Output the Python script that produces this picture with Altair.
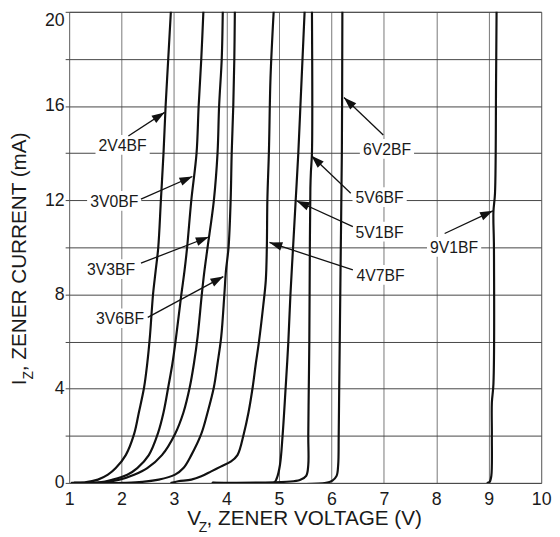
import math
import altair as alt
import pandas as pd

# ---------------- data ----------------
NAMES = ["2V4BF", "3V0BF", "3V3BF", "3V6BF", "4V7BF", "5V1BF", "5V6BF", "6V2BF", "9V1BF"]

I_LOW = [0.00, 0.02, 0.14, 0.35, 0.63, 1.18, 2.08, 2.99, 4.06, 5.07, 6.20, 8.00, 9.00, 10.0, 12.0, 14.0, 16.0, 18.0, 20.0]

V_2V4 = [1.05, 1.30, 1.55, 1.74, 1.89, 2.08, 2.24, 2.33, 2.43, 2.49, 2.54, 2.60, 2.65, 2.70, 2.75, 2.80, 2.84, 2.89, 2.94]
I_2V4 = I_LOW
V_3V0 = [1.10, 1.58, 1.83, 2.11, 2.30, 2.52, 2.69, 2.80, 2.89, 2.97, 3.04, 3.14, 3.20, 3.25, 3.33, 3.43, 3.47, 3.52, 3.56]
I_3V0 = I_LOW
V_3V3 = [1.10, 1.64, 1.96, 2.24, 2.49, 2.77, 3.02, 3.18, 3.30, 3.38, 3.45, 3.53, 3.58, 3.64, 3.76, 3.83, 3.86, 3.91, 3.93]
I_3V3 = I_LOW
V_3V6 = [1.60, 2.27, 2.71, 3.02, 3.18, 3.33, 3.52, 3.64, 3.76, 3.83, 3.90, 3.96, 3.99, 4.04, 4.08, 4.10, 4.13, 4.15, 4.16]
I_3V6 = I_LOW
V_4V7 = [2.95, 3.08, 3.33, 3.52, 3.71, 3.89, 4.08, 4.21, 4.33, 4.42, 4.50, 4.56, 4.62, 4.70, 4.75, 4.77, 4.78, 4.81, 4.84, 4.90]
I_4V7 = [0.00, 0.07, 0.14, 0.28, 0.49, 0.69, 0.90, 1.18, 2.08, 2.99, 4.06, 5.07, 6.00, 7.50, 8.60, 10.0, 12.0, 14.1, 17.2, 20.0]
V_5V1 = [3.74, 4.90, 4.96, 5.02, 5.07, 5.13, 5.18, 5.22, 5.27, 5.32, 5.37, 5.41, 5.45, 5.49]
I_5V1 = [0.00, 0.00, 0.20, 0.76, 2.00, 4.10, 6.00, 8.00, 10.0, 12.0, 14.0, 16.0, 18.0, 20.0]
V_5V6 = [3.74, 5.15, 5.40, 5.52, 5.56, 5.56, 5.57, 5.58, 5.59, 5.60, 5.61, 5.63, 5.63]
I_5V6 = [0.00, 0.05, 0.12, 0.30, 0.76, 2.00, 4.10, 6.00, 10.0, 12.5, 13.2, 14.0, 20.0]
V_6V2 = [3.74, 5.90, 6.02, 6.10, 6.13, 6.14, 6.15, 6.16, 6.18, 6.20, 6.21]
I_6V2 = [0.00, 0.00, 0.10, 0.30, 0.76, 2.00, 4.10, 6.00, 10.0, 14.0, 20.0]
V_9V1 = [8.98, 9.02, 9.05, 9.06, 9.06, 9.09, 9.10, 9.09, 9.12, 9.14, 9.15]
I_9V1 = [0.00, 0.05, 0.30, 2.00, 3.40, 4.20, 10.0, 11.5, 12.3, 17.0, 20.0]

SERIES_V = [V_2V4, V_3V0, V_3V3, V_3V6, V_4V7, V_5V1, V_5V6, V_6V2, V_9V1]
SERIES_I = [I_2V4, I_3V0, I_3V3, I_3V6, I_4V7, I_5V1, I_5V6, I_6V2, I_9V1]

# label centres, arrow tails and arrow tips (data units)
LBL_V = [2.02, 1.86, 1.80, 1.97, 6.94, 6.92, 6.92, 7.06, 8.34]
LBL_I = [14.35, 11.97, 9.08, 6.99, 8.83, 10.67, 12.13, 14.18, 10.02]
TAIL_V = [2.13, 2.37, 2.37, 2.50, 6.41, 6.41, 6.37, 6.99, 8.16]
TAIL_I = [14.73, 12.05, 9.33, 7.03, 9.04, 10.88, 12.30, 14.77, 10.59]
TIP_V = [2.82, 3.35, 3.66, 3.94, 4.82, 5.34, 5.62, 6.24, 9.08]
TIP_I = [15.73, 13.01, 10.44, 8.76, 10.21, 11.97, 13.89, 16.36, 11.55]

X_TICKS = list(range(1, 11))
Y_TICKS = list(range(0, 21, 2))

# ---------------- layout ----------------
W, H = 479, 478
FONT = "Liberation Sans"

rows = []
for name, vs, is_ in zip(NAMES, SERIES_V, SERIES_I):
    for k, (v, i) in enumerate(zip(vs, is_)):
        rows.append({"name": name, "V": v, "I": i, "k": k})
curves = pd.DataFrame(rows)

px_v = W / 9.0
px_i = H / 20.0
angles = []
for tv, ti, pv, pi in zip(TAIL_V, TAIL_I, TIP_V, TIP_I):
    dx = (pv - tv) * px_v
    dy = -(pi - ti) * px_i
    angles.append((math.degrees(math.atan2(dx, -dy)) + 360.0) % 360.0)

ann = pd.DataFrame({
    "name": NAMES, "lv": LBL_V, "li": LBL_I,
    "tv": TAIL_V, "ti": TAIL_I, "pv": TIP_V, "pi": TIP_I, "ang": angles,
})

XS = alt.Scale(domain=[1, 10], nice=False, zero=False)
YS = alt.Scale(domain=[0, 20], nice=False, zero=False)
XAX = alt.Axis(values=X_TICKS, grid=True, gridColor="#777777", gridWidth=1,
               domain=False, ticks=False, labelFontSize=18, labelFont=FONT,
               labelColor="#1a1a1a", labelPadding=8, labelFlush=False, title=None)
YAX = alt.Axis(values=Y_TICKS, grid=True, gridColor="#444444", gridWidth=1,
               domain=False, ticks=True, tickSize=4, tickColor="#444444",
               labelExpr="datum.value % 4 == 0 ? datum.label : ''",
               labelBaseline={"condition": {"test": "datum.value == 20", "value": "top"},
                              "value": "middle"},
               labelFontSize=18, labelFont=FONT, labelColor="#1a1a1a",
               labelPadding=1, title=None)

lines = alt.Chart(curves).mark_line(
    color="#111111", strokeWidth=2.2, interpolate="catmull-rom", clip=True,
    strokeJoin="round", strokeCap="round"
).encode(
    x=alt.X("V:Q", scale=XS, axis=XAX, title=None),
    y=alt.Y("I:Q", scale=YS, axis=YAX, title=None),
    detail="name:N",
    order="k:Q",
)

base = alt.Chart(ann)
boxes = base.mark_point(
    shape="M-27.5,-10H27.5V10H-27.5Z", size=4, filled=True,
    color="white", opacity=1, strokeWidth=0
).encode(
    x=alt.X("lv:Q", scale=XS, axis=XAX, title=None),
    y=alt.Y("li:Q", scale=YS, axis=YAX, title=None),
)
arrows = base.mark_rule(color="#111111", strokeWidth=1.3).encode(
    x=alt.X("tv:Q", scale=XS, axis=XAX, title=None),
    y=alt.Y("ti:Q", scale=YS, axis=YAX, title=None),
    x2="pv:Q", y2="pi:Q",
)
heads = base.mark_point(
    shape="M0,0L-0.34,1L0.34,1Z", size=676, filled=True,
    color="#111111", opacity=1, strokeWidth=0
).encode(
    x=alt.X("pv:Q", scale=XS, axis=XAX, title=None),
    y=alt.Y("pi:Q", scale=YS, axis=YAX, title=None),
    angle=alt.Angle("ang:Q", scale=None),
)
labels = base.mark_text(
    font=FONT, fontSize=16, color="#1a1a1a", align="center", baseline="middle", dy=1
).encode(
    x=alt.X("lv:Q", scale=XS, axis=XAX, title=None),
    y=alt.Y("li:Q", scale=YS, axis=YAX, title=None),
    text="name:N",
)


def ttext(s, x, y, size, angle=0):
    return alt.Chart(pd.DataFrame({"t": [s]})).mark_text(
        font=FONT, fontSize=size, color="#1a1a1a", align="left",
        baseline="alphabetic", angle=angle
    ).encode(x=alt.value(x), y=alt.value(y), text="t:N")


titles = [
    ttext("V", 120, 521, 21),
    ttext("Z", 131.5, 528, 14),
    ttext(", ZENER VOLTAGE (V)", 139.5, 521, 21),
    ttext("I", -43.3, 379, 21, 270),
    ttext("Z", -37, 373.2, 14, 270),
    ttext(", ZENER CURRENT (mA)", -43.3, 364.6, 21, 270),
]

chart = alt.layer(lines, boxes, arrows, heads, labels, *titles).properties(
    width=W, height=H,
    autosize=alt.AutoSizeParams(type="none"),
    padding={"left": 62, "top": 0, "right": 11, "bottom": 51},
).configure_view(stroke="#707070", strokeWidth=1)

chart.save("out.html", embed_options={"renderer": "svg", "actions": False})
